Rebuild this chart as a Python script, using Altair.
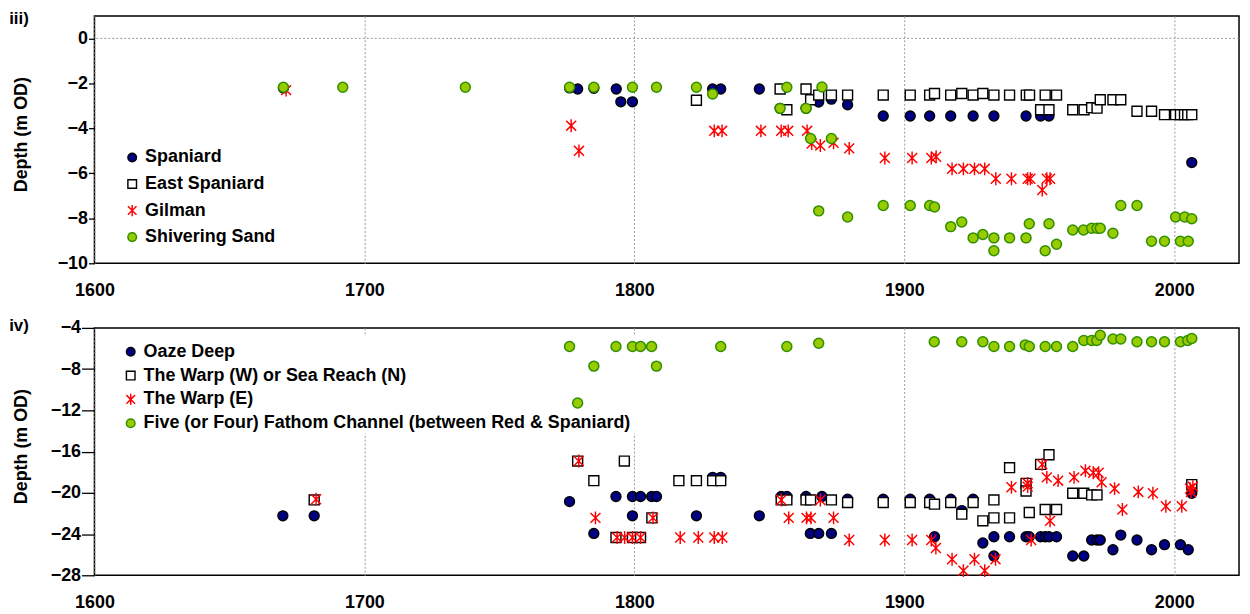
import altair as alt
import pandas as pd

FONT = "Liberation Sans"

# ---------------- Panel iii) ----------------
top_series = ["Spaniard", "East Spaniard", "Gilman", "Shivering Sand"]

spaniard_year = [1670, 1776, 1779, 1785, 1793.3, 1795, 1799.3, 1829, 1832, 1846.3, 1854, 1863.6,
                 1868.3, 1873, 1879, 1892.2, 1902.2, 1909.4, 1917.2, 1925.5, 1933.2, 1945.1, 1950.5,
                 1953.6, 2006.5]
spaniard_depth = [-2.2, -2.2, -2.25, -2.22, -2.25, -2.82, -2.82, -2.25, -2.25, -2.25, -3.11, -3.11,
                  -2.83, -2.7, -2.95, -3.45, -3.45, -3.45, -3.45, -3.45, -3.45, -3.45, -3.45,
                  -3.45, -5.52]

east_spaniard_year = [1823, 1854, 1856.5, 1863.6, 1865.3, 1868.3, 1873, 1879, 1892.2, 1902.2, 1909.4,
                      1911.2, 1917.2, 1921.3, 1925.5, 1929.1, 1933.2, 1939, 1945.2, 1946.4, 1950.5,
                      1952.2, 1953.6, 1956.4, 1962.4, 1966.6, 1969.4, 1971.4, 1972.6, 1977.3, 1980.2,
                      1986.2, 1991.6, 1996.4, 2000.5, 2002.3, 2003.8, 2005, 2006.5]
east_spaniard_depth = [-2.75, -2.25, -3.17, -2.25, -2.73, -2.52, -2.52, -2.52, -2.52, -2.52, -2.52,
                       -2.45, -2.52, -2.45, -2.52, -2.45, -2.52, -2.52, -2.52, -2.52, -3.17,
                       -2.52, -3.17, -2.52, -3.17, -3.17, -3.08, -3.1, -2.73, -2.73, -2.73,
                       -3.24, -3.24, -3.39, -3.39, -3.39, -3.39, -3.39, -3.39]

gilman_year = [1671, 1776.6, 1779.5, 1829.6, 1832.5, 1846.9, 1854.4, 1857, 1864, 1865.7, 1868.9,
               1873.8, 1879.6, 1892.8, 1902.9, 1910, 1911.8, 1917.7, 1921.9, 1926, 1929.8, 1933.9,
               1939.7, 1945.7, 1946.7, 1951.1, 1952.8, 1954]
gilman_depth = [-2.3, -3.88, -5.0, -4.11, -4.11, -4.11, -4.11, -4.11, -4.11, -4.67, -4.76,
                -4.64, -4.89, -5.32, -5.32, -5.32, -5.26, -5.8, -5.8, -5.8, -5.8, -6.24,
                -6.24, -6.24, -6.24, -6.74, -6.24, -6.24]

shivering_year = [1670, 1692, 1737.4, 1776, 1785, 1799.3, 1808.2, 1823, 1829, 1854, 1856.5, 1863.6,
                  1865.3, 1868.3, 1869.5, 1873, 1879, 1892.2, 1902.2, 1909.4, 1911.2, 1917.2, 1921.3,
                  1925.5, 1929.1, 1933.2, 1933.2, 1939, 1945.1, 1946.3, 1952.2, 1953.6, 1956.4,
                  1962.4, 1966.4, 1969.4, 1971.4, 1972.6, 1977.3, 1980.2, 1986.2, 1991.6, 1996.4,
                  2000.5, 2002.3, 2003.9, 2005.2, 2006.5]
shivering_depth = [-2.17, -2.17, -2.17, -2.17, -2.17, -2.17, -2.17, -2.17, -2.47, -3.11, -2.17, -3.11,
                   -4.45, -7.67, -2.16, -4.45, -7.94, -7.43, -7.43, -7.43, -7.5, -8.37, -8.16,
                   -8.87, -8.72, -8.87, -9.44, -8.87, -8.87, -8.24, -9.44, -8.24, -9.15,
                   -8.52, -8.52, -8.44, -8.44, -8.44, -8.66, -7.43, -7.43, -9.02, -9.02,
                   -7.94, -9.02, -7.94, -9.02, -8.02]

# ---------------- Panel iv) ----------------
bot_series = ["Oaze Deep", "The Warp (W) or Sea Reach (N)", "The Warp (E)",
              "Five (or Four) Fathom Channel (between Red & Spaniard)"]

oaze_year = [1669.8, 1681.4, 1776, 1785, 1793.2, 1799.3, 1799.3, 1802.3, 1806.4, 1808.2, 1823, 1829,
             1832, 1846.3, 1854.4, 1856.5, 1863.6, 1865.2, 1868.3, 1869.5, 1873, 1879, 1892.2,
             1902.2, 1909.4, 1911.2, 1917.2, 1921.3, 1925.5, 1929.1, 1933.2, 1933.2, 1939, 1945.1,
             1946.3, 1950.5, 1952.2, 1953.6, 1956.4, 1962.4, 1966.5, 1969.4, 1971.4, 1972.6,
             1977.3, 1980.2, 1986.2, 1991.6, 1996.4, 2002.3, 2005.2, 2006.5]
oaze_depth = [-22.23, -22.23, -20.85, -23.94, -20.36, -20.36, -22.23, -20.36, -20.36, -20.36, -22.23, -18.5,
              -18.5, -22.23, -20.36, -20.36, -20.36, -23.94, -23.94, -20.36, -23.94, -20.62, -20.62,
              -20.62, -20.62, -24.26, -20.62, -21.72, -20.62, -24.87, -24.26, -26.13, -24.26, -24.26,
              -24.26, -24.26, -24.26, -24.26, -24.26, -26.13, -26.13, -24.58, -24.58, -24.58,
              -25.52, -24.1, -24.58, -25.52, -25.03, -25.03, -25.52, -20.04]

warp_w_year = [1681.4, 1779, 1785, 1793.2, 1796.3, 1799.3, 1802.3, 1806.5, 1816.5, 1823, 1829, 1832,
               1854.4, 1856.5, 1863.6, 1865.3, 1873, 1879, 1892.2, 1902.2, 1909.4, 1911.2, 1917.2,
               1921.3, 1925.5, 1929.1, 1933.2, 1933.2, 1939, 1939, 1945.1, 1945.1, 1946.3, 1950.5,
               1952.2, 1953.6, 1956.4, 1962.4, 1966.5, 1969.4, 1971.4, 2006.5]
warp_w_depth = [-20.69, -16.92, -18.82, -24.33, -16.92, -24.33, -24.33, -22.43, -18.82, -18.82, -18.82, -18.82,
                -20.69, -20.69, -20.69, -20.69, -20.69, -20.95, -20.95, -20.95, -20.95, -21.1, -20.95,
                -22.07, -20.95, -22.72, -20.69, -22.43, -22.43, -17.56, -19.08, -19.82, -21.91, -17.24,
                -21.62, -16.31, -21.62, -20.04, -20.04, -20.2, -20.2, -19.2]

warp_e_year = [1682.1, 1779.4, 1785.6, 1793.6, 1796.4, 1799.3, 1802.3, 1806.9, 1817, 1823.7, 1829.6,
               1832.6, 1854.4, 1857.2, 1863.8, 1865.4, 1868.9, 1873.8, 1879.6, 1892.8, 1902.9, 1910,
               1911.7, 1917.7, 1921.9, 1926, 1929.8, 1933.8, 1939.7, 1945.7, 1945.7, 1947, 1951.1,
               1952.8, 1954, 1957, 1962.9, 1967.1, 1970, 1972, 1973.1, 1977.9, 1980.8, 1986.7,
               1992.1, 1996.9, 2002.8, 2005.9, 2006.2, 2006.9]
warp_e_depth = [-20.62, -16.92, -22.43, -24.33, -24.33, -24.33, -24.33, -22.43, -24.33, -24.33, -24.33,
                -24.33, -20.69, -22.43, -22.43, -22.43, -20.69, -22.43, -24.58, -24.58, -24.58, -24.58,
                -25.36, -26.45, -27.55, -26.45, -27.55, -26.45, -19.46, -19.08, -19.4, -24.58, -17.24,
                -18.5, -22.72, -18.82, -18.5, -17.85, -18.05, -18.05, -18.98, -19.59, -21.62, -19.91,
                -20.04, -21.3, -21.3, -19.59, -19.91, -19.4]

fathom_year = [1776, 1779, 1785, 1793.2, 1799.3, 1802.3, 1806.4, 1808.2, 1832, 1856.5, 1868.3, 1911.1,
               1921.3, 1929.1, 1933.2, 1939, 1944.8, 1946.3, 1952.2, 1956.4, 1962.4, 1966.5, 1969.4,
               1971.3, 1972.6, 1977.3, 1980.2, 1986.2, 1991.6, 1996.4, 2002.3, 2005, 2006.5]
fathom_depth = [-5.81, -11.28, -7.71, -5.81, -5.81, -5.81, -5.81, -7.71, -5.81, -5.81, -5.49, -5.35,
                -5.35, -5.35, -5.81, -5.81, -5.65, -5.81, -5.81, -5.81, -5.81, -5.23, -5.23,
                -5.23, -4.71, -5.07, -5.07, -5.35, -5.35, -5.35, -5.35, -5.23, -5.03]

x_ticks = [1600, 1700, 1800, 1900, 2000]
top_y_ticks = [-10, -8, -6, -4, -2, 0]
bot_y_ticks = [-28, -24, -20, -16, -12, -8, -4]

ASTERISK = "M-1,-1L1,1M1,-1L-1,1M0,-1.3L0,1.3"
shape_range = ["circle", "square", ASTERISK, "circle"]
fill_range = ["#000080", "#ffffff", "#ff0000", "#99cc00"]
stroke_range = ["#000000", "#000000", "#ff0000", "#2f8f00"]
stroke_width_range = [1.4, 1.5, 2.0, 1.4]


def build_df(names, pairs):
    rows = []
    for name, (ys, ds) in zip(names, pairs):
        for y, d in zip(ys, ds):
            rows.append({"series": name, "year": y, "depth": d})
    return pd.DataFrame(rows)


top_df = build_df(top_series, [(spaniard_year, spaniard_depth),
                               (east_spaniard_year, east_spaniard_depth),
                               (gilman_year, gilman_depth),
                               (shivering_year, shivering_depth)])
bot_df = build_df(bot_series, [(oaze_year, oaze_depth),
                               (warp_w_year, warp_w_depth),
                               (warp_e_year, warp_e_depth),
                               (fathom_year, fathom_depth)])

W, H = 1152, 249


def panel(df, names, ydomain, yticks, label, label_y, lx, ly, row_pad, tick_size, zero_line, mask):
    legend = alt.Legend(
        title=None, orient="none", legendX=lx, legendY=ly, padding=4,
        labelFont=FONT, labelFontSize=18, labelFontWeight="bold",
        labelColor="#000000", labelLimit=1000, labelOffset=4, symbolSize=75,
        symbolStrokeWidth=1.4, rowPadding=row_pad,
    )
    x = alt.X("year:Q",
              scale=alt.Scale(domain=[1600, 2024], nice=False, zero=False),
              axis=alt.Axis(values=x_ticks, title=None, grid=True, gridDash=[2, 2],
                            gridColor="#9a9a9a", gridWidth=1, ticks=False, domain=False,
                            labelPadding=18, labelFlush=False, format="d"))
    y = alt.Y("depth:Q",
              scale=alt.Scale(domain=ydomain, nice=False, zero=False),
              axis=alt.Axis(values=yticks, title="Depth (m OD)", grid=False, domain=False,
                            tickSize=tick_size, tickColor="#000000", tickWidth=1.3,
                            labelPadding=1, titleAngle=270, titleX=-73, titleY=119,
                            titleAlign="center", titleBaseline="middle", format="d"))
    pts = alt.Chart(df).mark_point(filled=True, size=100, opacity=1).encode(
        x=x, y=y,
        shape=alt.Shape("series:N", scale=alt.Scale(domain=names, range=shape_range), legend=legend),
        fill=alt.Fill("series:N", scale=alt.Scale(domain=names, range=fill_range), legend=legend),
        stroke=alt.Stroke("series:N", scale=alt.Scale(domain=names, range=stroke_range), legend=legend),
        strokeWidth=alt.StrokeWidth("series:N", scale=alt.Scale(domain=names, range=stroke_width_range),
                                    legend=None),
    )
    layers = []
    if mask is not None:
        mx0, mx1, my0, my1 = mask
        m = alt.Chart(pd.DataFrame({"k": [0]})).mark_rect(color="#ffffff", opacity=1).encode(
            x=alt.value(mx0), x2=alt.value(mx1), y=alt.value(my0), y2=alt.value(my1))
        layers.append(m)
    if zero_line:
        zl = alt.Chart(pd.DataFrame({"depth": [0]})).mark_rule(
            strokeDash=[2, 2], color="#9a9a9a", strokeWidth=1).encode(y=alt.Y("depth:Q"))
        layers.append(zl)
    layers.append(pts)
    txt = alt.Chart(pd.DataFrame({"t": [label]})).mark_text(
        align="right", baseline="middle", font=FONT, fontSize=17, fontWeight="bold",
        color="#000000").encode(text="t:N", x=alt.value(-66), y=alt.value(label_y))
    layers.append(txt)
    return alt.layer(*layers).properties(width=W, height=H)


top = panel(top_df, top_series, [-10, 1], top_y_ticks, "iii)", 3, 25, 129.5, 8.7, 6, True, None)
bot = panel(bot_df, bot_series, [-28, -4], bot_y_ticks, "iv)", -2, 23.5, 11, 6, 13, False,
            (24, 556, 8, 106))

chart = alt.vconcat(top, bot, spacing=16).resolve_scale(
    shape="independent", fill="independent", stroke="independent", strokeWidth="independent",
    y="independent"
).resolve_legend(
    shape="independent", fill="independent", stroke="independent"
).properties(
    padding={"left": 0, "top": -1, "right": 1, "bottom": 0}
).configure_view(
    stroke="#000000", strokeWidth=1.5
).configure_axis(
    labelFont=FONT, labelFontSize=18, labelFontWeight="bold", labelColor="#000000",
    titleFont=FONT, titleFontSize=18, titleFontWeight="bold", titleColor="#000000",
)

chart.save("out.html", embed_options={"renderer": "svg", "actions": False})
